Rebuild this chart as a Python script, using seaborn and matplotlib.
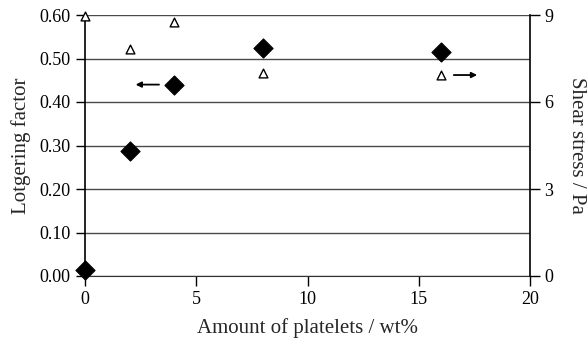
import matplotlib
matplotlib.use("Agg")
import matplotlib.pyplot as plt
import seaborn as sns
import pandas as pd

platelets = [0, 2, 4, 8, 16]
lotgering = [0.014, 0.287, 0.438, 0.523, 0.516]
shear_x = [0, 2, 4, 8, 16]
shear = [8.95, 7.83, 8.77, 7.0, 6.93]

sns.set_style("white")
plt.rcParams['font.family'] = ['Liberation Serif', 'DejaVu Serif']
plt.rcParams['font.size'] = 13

fig = plt.figure(figsize=(5.87, 3.41), dpi=100)
ax = fig.add_axes([85/587, 1-276/341, (530-85)/587, (276-15)/341])
ax2 = ax.twinx()

df1 = pd.DataFrame({"x": platelets, "y": lotgering})
df2 = pd.DataFrame({"x": shear_x, "y": shear})

ax.set_xlim(0, 20)
ax.set_ylim(0, 0.6)
ax2.set_ylim(0, 9)
yt = [0, 0.1, 0.2, 0.3, 0.4, 0.5, 0.6]
ax.set_yticks(yt)
ax.set_yticklabels([f"{v:.2f}" for v in yt])
ax.set_xticks([0, 5, 10, 15, 20])
ax2.set_yticks([0, 3, 6, 9])
ax.grid(axis='y', color='#4a4a4a', linewidth=1)
ax.set_axisbelow(True)

sns.scatterplot(data=df1, x="x", y="y", ax=ax, marker='D', s=95, color='black',
                edgecolor='black', zorder=5, clip_on=False, legend=False)
sns.scatterplot(data=df2, x="x", y="y", ax=ax2, marker='^', s=40, facecolor='white',
                edgecolor='black', linewidth=1, zorder=5, clip_on=False, legend=False)

ax.annotate("", xy=(2.15, 0.44), xytext=(3.45, 0.44),
            arrowprops=dict(arrowstyle='-|>', color='black', lw=1.3, mutation_scale=8))
ax2.annotate("", xy=(17.75, 6.93), xytext=(16.45, 6.93),
             arrowprops=dict(arrowstyle='-|>', color='black', lw=1.3, mutation_scale=8))

for a in (ax, ax2):
    for s in a.spines.values():
        s.set_visible(False)
ax.spines['left'].set_visible(True)
ax.spines['left'].set_color('black')
ax.spines['left'].set_linewidth(1.2)
ax.spines['bottom'].set_visible(True)
ax.spines['bottom'].set_color('#333333')
ax2.spines['right'].set_visible(True)
ax2.spines['right'].set_color('black')
ax2.spines['right'].set_linewidth(1.2)

ax.tick_params(axis='y', direction='out', length=6.5, width=1, left=True, labelsize=13, pad=4, colors='black')
ax.tick_params(axis='x', direction='out', length=7, width=1, bottom=True, labelsize=13, pad=4, colors='black')
ax2.tick_params(axis='y', direction='out', length=7, width=1, right=True, labelsize=13, pad=3.5, colors='black')

ax.set_xlabel("Amount of platelets / wt%", fontsize=15, labelpad=7)
ax.set_ylabel("Lotgering factor", fontsize=15, labelpad=6)
ax2.set_ylabel("Shear stress / Pa", fontsize=15, rotation=270, labelpad=23)

fig.savefig("out.png", dpi=100)
